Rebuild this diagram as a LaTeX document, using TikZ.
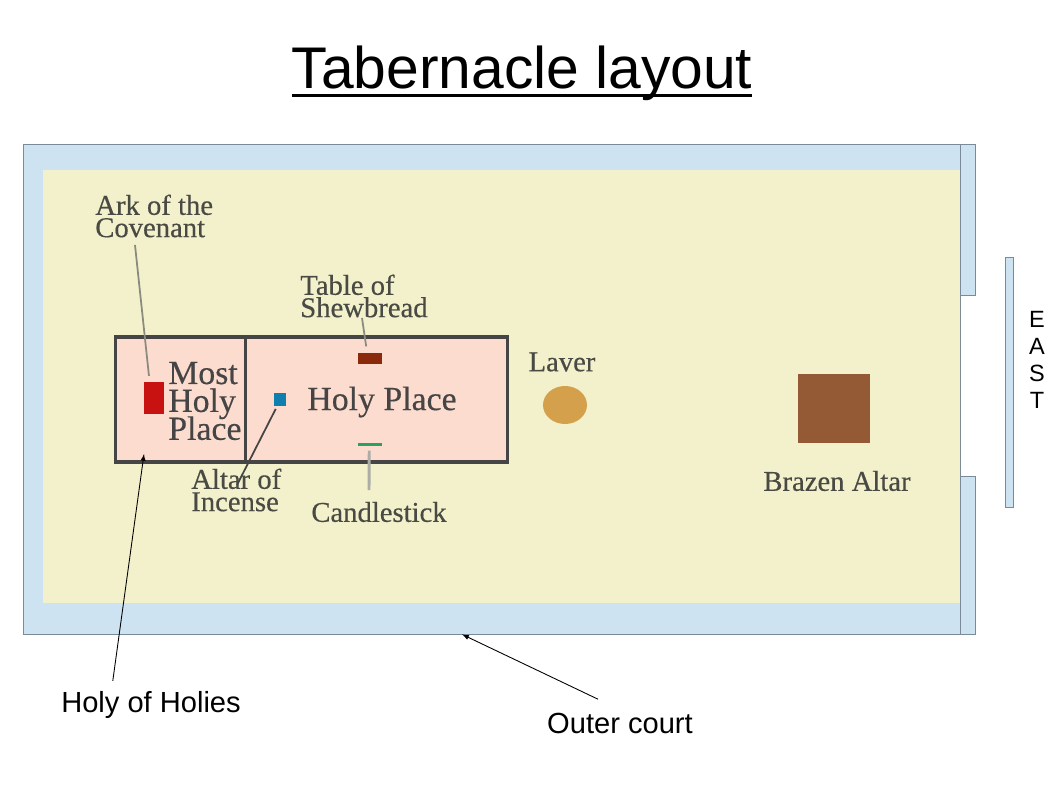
\documentclass[tikz,border=0pt]{standalone}
\usepackage{fontspec}
\usetikzlibrary{shapes.geometric}
\setmainfont{Liberation Sans}
\newfontfamily\planfont[FakeBold=0.4]{Liberation Serif}
\def\px{.6805pt}
\lineskiplimit=-20pt
\newcommand{\thickunder}[1]{\vtop{\hbox{\smash{#1}}\kern3.9pt\hrule height 2pt}}
\definecolor{courtblue}{HTML}{CDE3F2}
\definecolor{courtedge}{HTML}{7A8A99}
\definecolor{yard}{HTML}{F3F1CC}
\definecolor{roompink}{HTML}{FDDCD0}
\definecolor{roomedge}{HTML}{454545}
\definecolor{plantext}{HTML}{4A4A44}
\definecolor{leadgray}{HTML}{8A8A80}
\definecolor{arkred}{HTML}{C81212}
\definecolor{tablered}{HTML}{8B2A0A}
\definecolor{incenseblue}{HTML}{0F7FAE}
\definecolor{candlegreen}{HTML}{2E9E62}
\definecolor{lavergold}{HTML}{D4A04C}
\definecolor{brazenbrown}{HTML}{935A35}
\tikzset{
  court/.style={rectangle, draw=courtedge, fill=courtblue, line width=.6pt, inner sep=0pt},
  room/.style={rectangle, draw=roomedge, fill=roompink, line width=2.2pt, inner sep=0pt},
  item/.style={rectangle, inner sep=0pt},
  plan/.style={inner sep=0pt, text=plantext, font=\planfont\fontsize{19.5}{15.2}\selectfont},
  roomtext/.style={inner sep=0pt, text=roomedge, font=\planfont\fontsize{23}{19}\selectfont},
  word/.style={inner sep=0pt, font=\fontsize{19.8}{18.3}\selectfont},
  leader/.style={draw=leadgray, line width=1.2pt},
  pointer/.style={-latex, black, line width=.6pt},
}
\begin{document}
\begin{tikzpicture}[x=\px, y=-\px]
\useasboundingbox (0,0) rectangle (1058,793);
\node[inner sep=0pt, anchor=base, font=\fontsize{40}{40}\selectfont] (title) at (522,88){\thickunder{Tabernacle layout}};
% walls
\node[court, minimum width=937*\px, minimum height=490*\px] (outer) at (491.5,389){};
\node[item, fill=yard, minimum width=916.5*\px, minimum height=433*\px] (inner) at (501.25,386.5){};
\node[court, minimum width=15*\px, minimum height=151*\px] (gatetop) at (968,219.5){};
\node[court, minimum width=15*\px, minimum height=158*\px] (gatebot) at (968,555){};
\node[court, minimum width=8*\px, minimum height=250*\px] (eastbar) at (1009.5,382){};
\node[inner sep=0pt, align=center, font=\fontsize{16}{18.3}\selectfont] (east) at (1037,360){E\\A\\S\\T};
% rooms
\node[room, minimum width=130*\px, minimum height=125*\px] (mostroom) at (180.5,399.5){};
\node[room, minimum width=262*\px, minimum height=125*\px] (holyroom) at (376.5,399.5){};
% furniture
\node[item, fill=arkred, minimum width=20*\px, minimum height=32*\px] (ark) at (154,398){};
\node[item, fill=tablered, minimum width=24*\px, minimum height=11*\px] (table) at (370,358){};
\node[item, fill=incenseblue, minimum width=12*\px, minimum height=13*\px] (incense) at (280,399.5){};
\node[item, fill=candlegreen, minimum width=24*\px, minimum height=3*\px] (candle) at (370,444.5){};
\node[ellipse, inner sep=0pt, fill=lavergold, minimum width=44*\px, minimum height=38*\px] (laver) at (565,405){};
\node[item, fill=brazenbrown, minimum width=72*\px, minimum height=69*\px] (brazen) at (834,408.5){};
% plan labels
\node[roomtext, anchor=west, align=left] (mostlbl) at (168,401){Most\\Holy\\Place};
\node[roomtext] (holylbl) at (382,402){Holy Place};
\node[plan] (laverlbl) at (562,362){Laver};
\node[plan] (brazenlbl) at (837,481){Brazen Altar};
\node[plan, anchor=west, align=left] (arklbl) at (95,216){Ark of the\\Covenant};
\node[plan, anchor=west, align=left] (tablelbl) at (300,296){Table of\\Shewbread};
\node[plan, anchor=west, align=left] (incenselbl) at (191,490){Altar of\\Incense};
\node[plan] (candlelbl) at (379,512){Candlestick};
% leaders
\coordinate (arkfrom) at (135,245);
\coordinate (tablefrom) at (362,318);
\coordinate (incensefrom) at (237,485);
\coordinate (candlefrom) at (369,490);
\draw[leader, shorten >=4pt](arkfrom) -- ([xshift=-3pt]ark.north);
\draw[leader, shorten >=4pt](tablefrom) -- ([xshift=-2pt]table.north);
\draw[leader, draw=roomedge, shorten >=2pt](incensefrom) -- ([xshift=-2pt]incense.south);
\draw[leader, draw=leadgray!70, line width=2pt, shorten >=3pt](candlefrom) -- ([xshift=-.5pt]candle.south);
% callouts
\node[word] (holieslbl) at (151,705){Holy of Holies};
\node[word] (outerlbl) at (620,723){Outer court};
\coordinate (holiestip) at (144,454);
\draw[pointer]([xshift=-26pt,yshift=7pt]holieslbl.north) -- (holiestip);
\draw[pointer]([xshift=-15pt,yshift=9pt]outerlbl.north) -- ([xshift=-20pt]outer.south);
\end{tikzpicture}
\end{document}
